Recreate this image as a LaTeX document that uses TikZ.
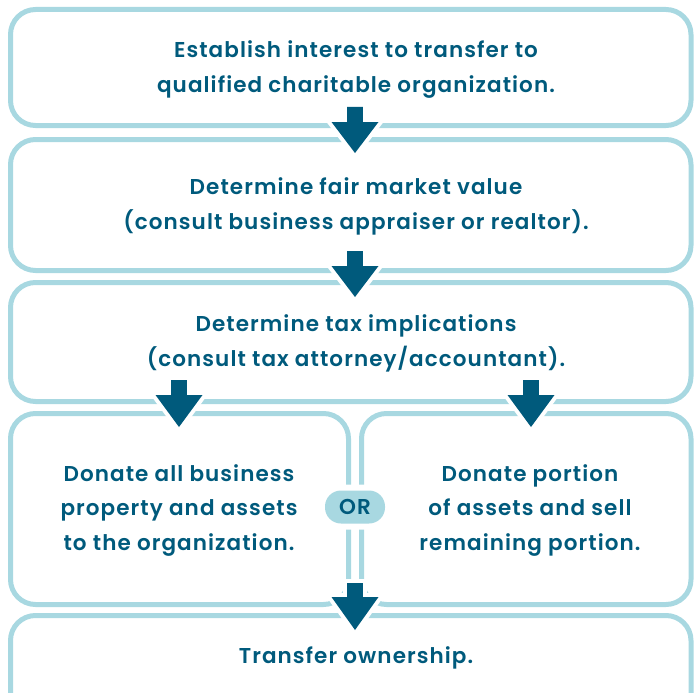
\documentclass[tikz,border=0pt]{standalone}
\usepackage{fontspec}
\setmainfont{Poppins SemiBold}[LetterSpace=5]
\definecolor{lineblue}{RGB}{168,216,225}
\definecolor{darkblue}{RGB}{0,90,124}
\begin{document}
\begin{tikzpicture}[x=1pt,y=-1pt,
  box/.style={draw=lineblue, line width=5pt, rounded corners=25pt, rectangle, inner sep=0pt},
  txt/.style={text=darkblue, align=center, font=\fontsize{21.5}{34.5}\selectfont, inner sep=0pt},
  blockarrow/.style={fill=darkblue, preaction={draw=white, line width=8pt, line join=miter}},
  orpill/.style={fill=lineblue, rounded corners=16pt, minimum width=60pt, minimum height=33pt, inner sep=0pt,
    preaction={draw=white, line width=12pt, rounded corners=16pt}, text=darkblue, font=\fontsize{21.5}{24}\selectfont}]
\useasboundingbox (0,0) rectangle (694,693);
\clip (0,0) rectangle (694,693);
% boxes
\node[box, minimum width=680.5pt, minimum height=116pt] (b1) at (350.75,67.5) {};
\node[box, minimum width=680.5pt, minimum height=131pt] (b2) at (350.75,205) {};
\node[box, minimum width=680.5pt, minimum height=119pt] (b3) at (350.75,342) {};
\node[box, minimum width=338pt, minimum height=191pt] (b4l) at (179.5,509) {};
\node[box, minimum width=329.5pt, minimum height=191pt] (b4r) at (526.25,509) {};
\node[box, minimum width=680.5pt, minimum height=110pt] (b5) at (350.75,670.5) {};
% texts
\node[txt] (t1) at (356,69.5) {Establish interest to transfer to\\qualified charitable organization.};
\node[txt] (t2) at (356,206.5) {Determine fair market value\\(consult business appraiser or realtor).};
\node[txt] (t3) at (356,343.5) {Determine tax implications\\(consult tax attorney/accountant).};
\node[txt] (t4l) at (179,510.5) {Donate all business\\property and assets\\to the organization.};
\node[txt] (t4r) at (530,510.5) {Donate portion\\of assets and sell\\remaining portion.};
\node[txt] (t5) at (356,658) {Transfer ownership.};
% arrows
\newcommand{\blockarr}[4]{%
  \path[blockarrow] (#1-7.8,#2) -- (#1+7.8,#2) -- (#1+7.8,#3) -- (#1+23.5,#3) -- (#1,#4) -- (#1-23.5,#3) -- (#1-7.8,#3) -- cycle;}
\blockarr{355}{107}{122}{153}
\blockarr{355}{251}{266}{297}
\blockarr{179}{380}{395}{427}
\blockarr{531}{380}{395}{427}
\blockarr{355}{583}{597}{630}
% OR
\node[orpill] (or) at (355,507) {OR};
\end{tikzpicture}
\end{document}
